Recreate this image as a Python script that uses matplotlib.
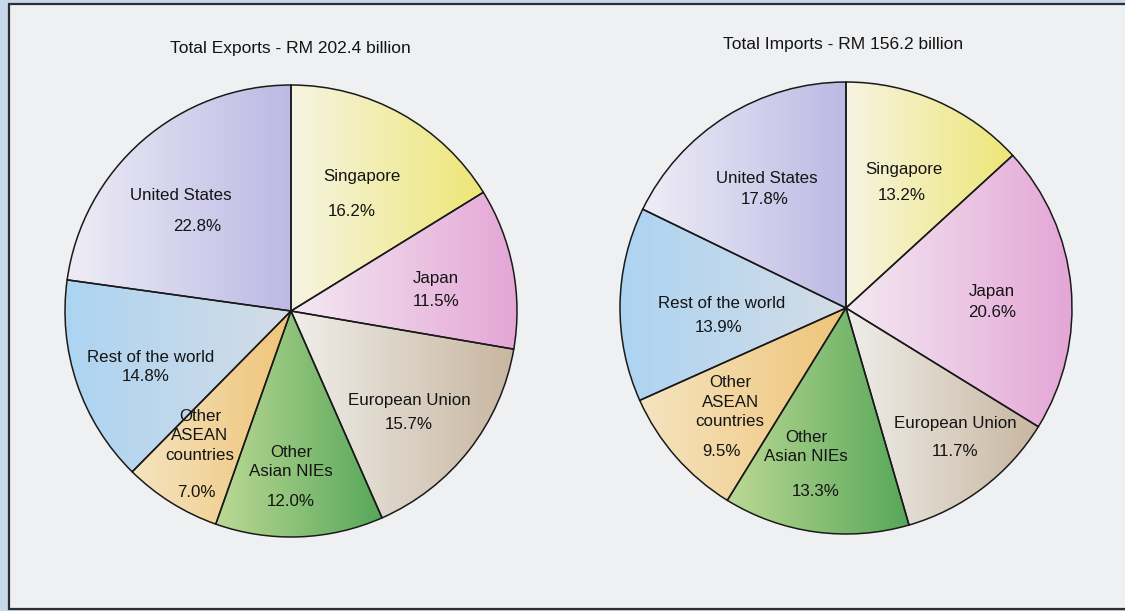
"""Malaysia trade by destination/origin: two pie charts (exports and imports)."""

import numpy as np
import matplotlib.pyplot as plt
from matplotlib.colors import to_rgb
from matplotlib.patches import Rectangle

plt.rcParams["font.family"] = ["Liberation Sans", "DejaVu Sans"]

# Slices go clockwise from 12 o'clock
regions = [
    "Singapore", "Japan", "European Union", "Other\nAsian NIEs",
    "Other\nASEAN\ncountries", "Rest of the world", "United States",
]
export_share = [16.2, 11.5, 15.7, 12.0, 7.0, 14.8, 22.8]
import_share = [13.2, 20.6, 11.7, 13.3, 9.5, 13.9, 17.8]
export_title = "Total Exports - RM 202.4 billion"
import_title = "Total Imports - RM 156.2 billion"

# (left colour, right colour) of the horizontal shading in each wedge
shades = [
    ("#f6f4e2", "#eee676"),
    ("#f4e9f2", "#e4a6d6"),
    ("#efeeea", "#c8b6a0"),
    ("#bcd994", "#56a75a"),
    ("#f5e4c0", "#efc478"),
    ("#acd4f2", "#d4dce6"),
    ("#eeedf6", "#bcb9e4"),
]

# label placement in pie radii: (name x, name y, pct x, pct y)
export_label_pos = [
    (0.314, 0.593, 0.270, 0.442),
    (0.642, 0.142, 0.642, 0.040),
    (0.522, -0.398, 0.522, -0.504),
    (0.000, -0.668, 0.000, -0.845),
    (-0.403, -0.553, -0.420, -0.801),
    (-0.619, -0.204, -0.642, -0.292),
    (-0.487, 0.509, -0.416, 0.376),
]
import_label_pos = [
    (0.257, 0.615, 0.248, 0.500),
    (0.646, 0.071, 0.646, -0.018),
    (0.482, -0.509, 0.482, -0.637),
    (-0.177, -0.615, -0.133, -0.810),
    (-0.513, -0.416, -0.553, -0.637),
    (-0.549, 0.018, -0.562, -0.088),
    (-0.350, 0.571, -0.358, 0.478),
]

W, H = 1125, 611
RADIUS_PX = 226


def shade_wedge(ax, wedge, c_left, c_right):
    """Fill a wedge with a left-to-right colour blend, clipped to the wedge."""
    x0, y0, x1, y1 = wedge.get_path().get_extents().extents
    t = np.linspace(0, 1, 256)[:, None]
    grad = (1 - t) * np.array(to_rgb(c_left)) + t * np.array(to_rgb(c_right))
    img = ax.imshow(grad[None, :, :], extent=(x0, x1, y0, y1), aspect="auto",
                    interpolation="bilinear", zorder=1)
    img.set_clip_path(wedge)
    wedge.set_facecolor("none")
    wedge.set_zorder(2)


def draw_pie(fig, cx, cy, shares, label_pos, title, title_xy):
    ax = fig.add_axes([(cx - RADIUS_PX) / W, (H - cy - RADIUS_PX) / H,
                       2 * RADIUS_PX / W, 2 * RADIUS_PX / H])
    wedges, _ = ax.pie(shares, startangle=90, counterclock=False, radius=1,
                       wedgeprops=dict(edgecolor="#1a1a1a", linewidth=1.1))
    for wedge, (c_left, c_right) in zip(wedges, shades):
        shade_wedge(ax, wedge, c_left, c_right)

    for name, share, (nx, ny, px, py) in zip(regions, shares, label_pos):
        ax.text(nx, ny, name, ha="center", va="center", fontsize=12.2,
                color="#141414", linespacing=1.4, zorder=3)
        ax.text(px, py, f"{share:.1f}%", ha="center", va="center",
                fontsize=12.2, color="#141414", zorder=3)

    ax.set_xlim(-1, 1)
    ax.set_ylim(-1, 1)
    ax.set_aspect("equal")
    ax.axis("off")
    fig.text(title_xy[0] / W, 1 - title_xy[1] / H, title, ha="center",
             va="center", fontsize=12.5, color="#141414")


fig = plt.figure(figsize=(W / 100, H / 100), dpi=100)
fig.patch.set_facecolor("#c7d8eb")
fig.patches.append(Rectangle((9 / W, 2 / H), 1.2, 1 - 6 / H,
                             transform=fig.transFigure, facecolor="#eff0f2",
                             edgecolor="#2e2e2e", linewidth=1.6, zorder=-1))

draw_pie(fig, 291, 311, export_share, export_label_pos, export_title, (290, 48))
draw_pie(fig, 846, 308, import_share, import_label_pos, import_title, (843, 45))

fig.savefig("out.png", dpi=100, facecolor=fig.get_facecolor())
